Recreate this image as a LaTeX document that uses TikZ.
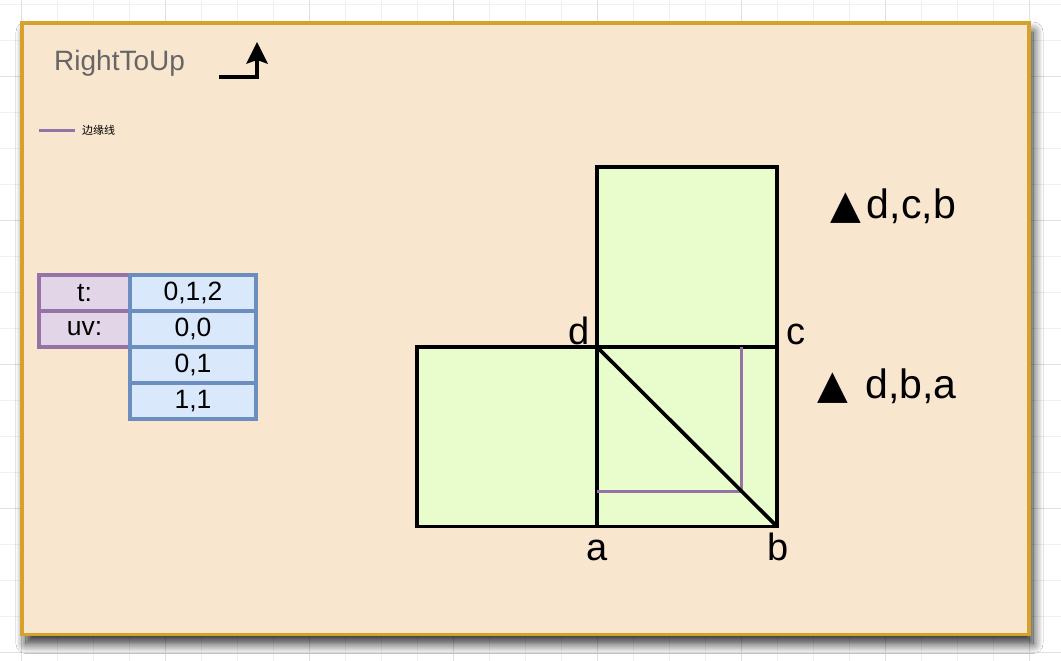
\documentclass[tikz,border=0pt]{standalone}
\usepackage{fontspec}
\setmainfont{Liberation Sans}
\newfontfamily\cjk{Noto Sans CJK SC}
\newfontfamily\dejavu{DejaVu Sans}
\newcommand\trisymfont{\dejavu\fontsize{40}{40}\selectfont}
\usetikzlibrary{arrows.meta,shadows.blur}
\definecolor{gridminor}{HTML}{F0F0F0}
\definecolor{gridmajor}{HTML}{E0E0E0}
\definecolor{framegold}{HTML}{D6A22B}
\definecolor{framefill}{HTML}{F9E6CF}
\definecolor{titlegray}{HTML}{666666}
\definecolor{sqfill}{HTML}{E8FCCC}
\definecolor{purp}{HTML}{9673A6}
\definecolor{purpfill}{HTML}{E1D5E7}
\definecolor{blu}{HTML}{6C8EBF}
\definecolor{blufill}{HTML}{DAE8FC}
\tikzset{
  minorline/.style={draw=gridminor, line width=0.8},
  majorline/.style={draw=gridmajor, line width=0.8},
  framebox/.style={draw=framegold, fill=framefill, line width=3.5,
    blur shadow={shadow xshift=4pt, shadow yshift=-9pt, shadow blur radius=10pt, shadow blur steps=16, shadow opacity=85}},
  sqline/.style={draw=black, line width=3.6, line join=miter},
  edgeline/.style={draw=purp, line width=3},
  tcellL/.style={draw=purp, fill=purpfill, line width=3.2, minimum width=91, minimum height=36, inner sep=0, font=\fontsize{26.5}{26.5}\selectfont},
  tcellR/.style={draw=blu, fill=blufill, line width=3.2, minimum width=126, minimum height=36, inner sep=0, font=\fontsize{26.5}{26.5}\selectfont},
  lbl/.style={font=\fontsize{38}{38}\selectfont, inner sep=0},
  tri/.style={font=\fontsize{41}{41}\selectfont, inner sep=0, anchor=base west},
}
\begin{document}
\begin{tikzpicture}[x=1pt,y=-1pt]
\useasboundingbox (0,0) rectangle (1061,661);
\fill[white] (0,0) rectangle (1061,661);
% grid
\foreach \gx in {21,57,...,1061} \draw[minorline] (\gx,0) -- (\gx,661);
\foreach \gy in {4,40,...,661} \draw[minorline] (0,\gy) -- (1061,\gy);
\foreach \gx in {21,165,...,1061} \draw[majorline] (\gx,0) -- (\gx,661);
\foreach \gy in {76,220,...,661} \draw[majorline] (0,\gy) -- (1061,\gy);
% frame
\path[framebox] (22,23) rectangle (1029,634.5);
% title
\node[anchor=west, text=titlegray, font=\fontsize{28}{28}\selectfont, inner sep=0] (title) at (54,63) {RightToUp};
\coordinate (arS) at (219,77);
\coordinate (arC) at (257,77);
\coordinate (arB) at (257,58);
\coordinate (arE) at (257,42);
\coordinate (arL) at (246,64);
\coordinate (arR) at (268,64);
\coordinate (arN) at (257,60);
\draw[line width=3.6, line join=miter] (arS) -- (arC) -- (arB);
\fill[black] (arE) -- (arR) -- (arN) -- (arL) -- cycle;
% legend
\coordinate (lg1) at (39,130);
\coordinate (lg2) at (75,130);
\draw[edgeline] (lg1) -- (lg2);
\node[anchor=west, inner sep=0, font=\cjk\fontsize{11}{11}\selectfont] (lgtxt) at (82,130.5) {边缘线};
% table
\node[tcellL] (tlab) at (84.5,293) {t:};
\node[tcellL] (uvlab) at (84.5,329) {uv:};
\node[tcellR] (tval) at (193,293) {0,1,2};
\node[tcellR] (uv1) at (193,329) {0,0};
\node[tcellR] (uv2) at (193,365) {0,1};
\node[tcellR] (uv3) at (193,401) {1,1};
% squares
\coordinate (a) at (597,526.5);
\coordinate (b) at (777,526.5);
\coordinate (c) at (777,347);
\coordinate (d) at (597,347);
\coordinate (tl) at (597,167);
\coordinate (ll) at (417,526.5);
\coordinate (lu) at (417,347);
\path[fill=sqfill] (lu) rectangle (b);
\path[fill=sqfill] (tl) rectangle (c);
\draw[sqline] (tl) rectangle (c);
\draw[sqline] (lu) rectangle (a);
\draw[sqline] (d) rectangle (b);
\coordinate (p1) at (597,491);
\coordinate (p2) at (741,491);
\coordinate (p3) at (741,347);
\draw[edgeline] (p1) -- (p2) -- (p3);
\draw[line width=3.6] (d) -- (b);
% labels
\node[lbl, anchor=base] (ld) at (579,344) {d};
\node[lbl, anchor=base] (lc) at (796,344) {c};
\node[lbl, anchor=base] (la) at (597,560) {a};
\node[lbl, anchor=base] (lb) at (778,560) {b};
\node[tri] (t1) at (830,218) {{\trisymfont ▲}\hspace{6pt}d,c,b};
\node[tri] (t2) at (817,398) {{\trisymfont ▲}\hspace{17.5pt}d,b,a};
\end{tikzpicture}
\end{document}
